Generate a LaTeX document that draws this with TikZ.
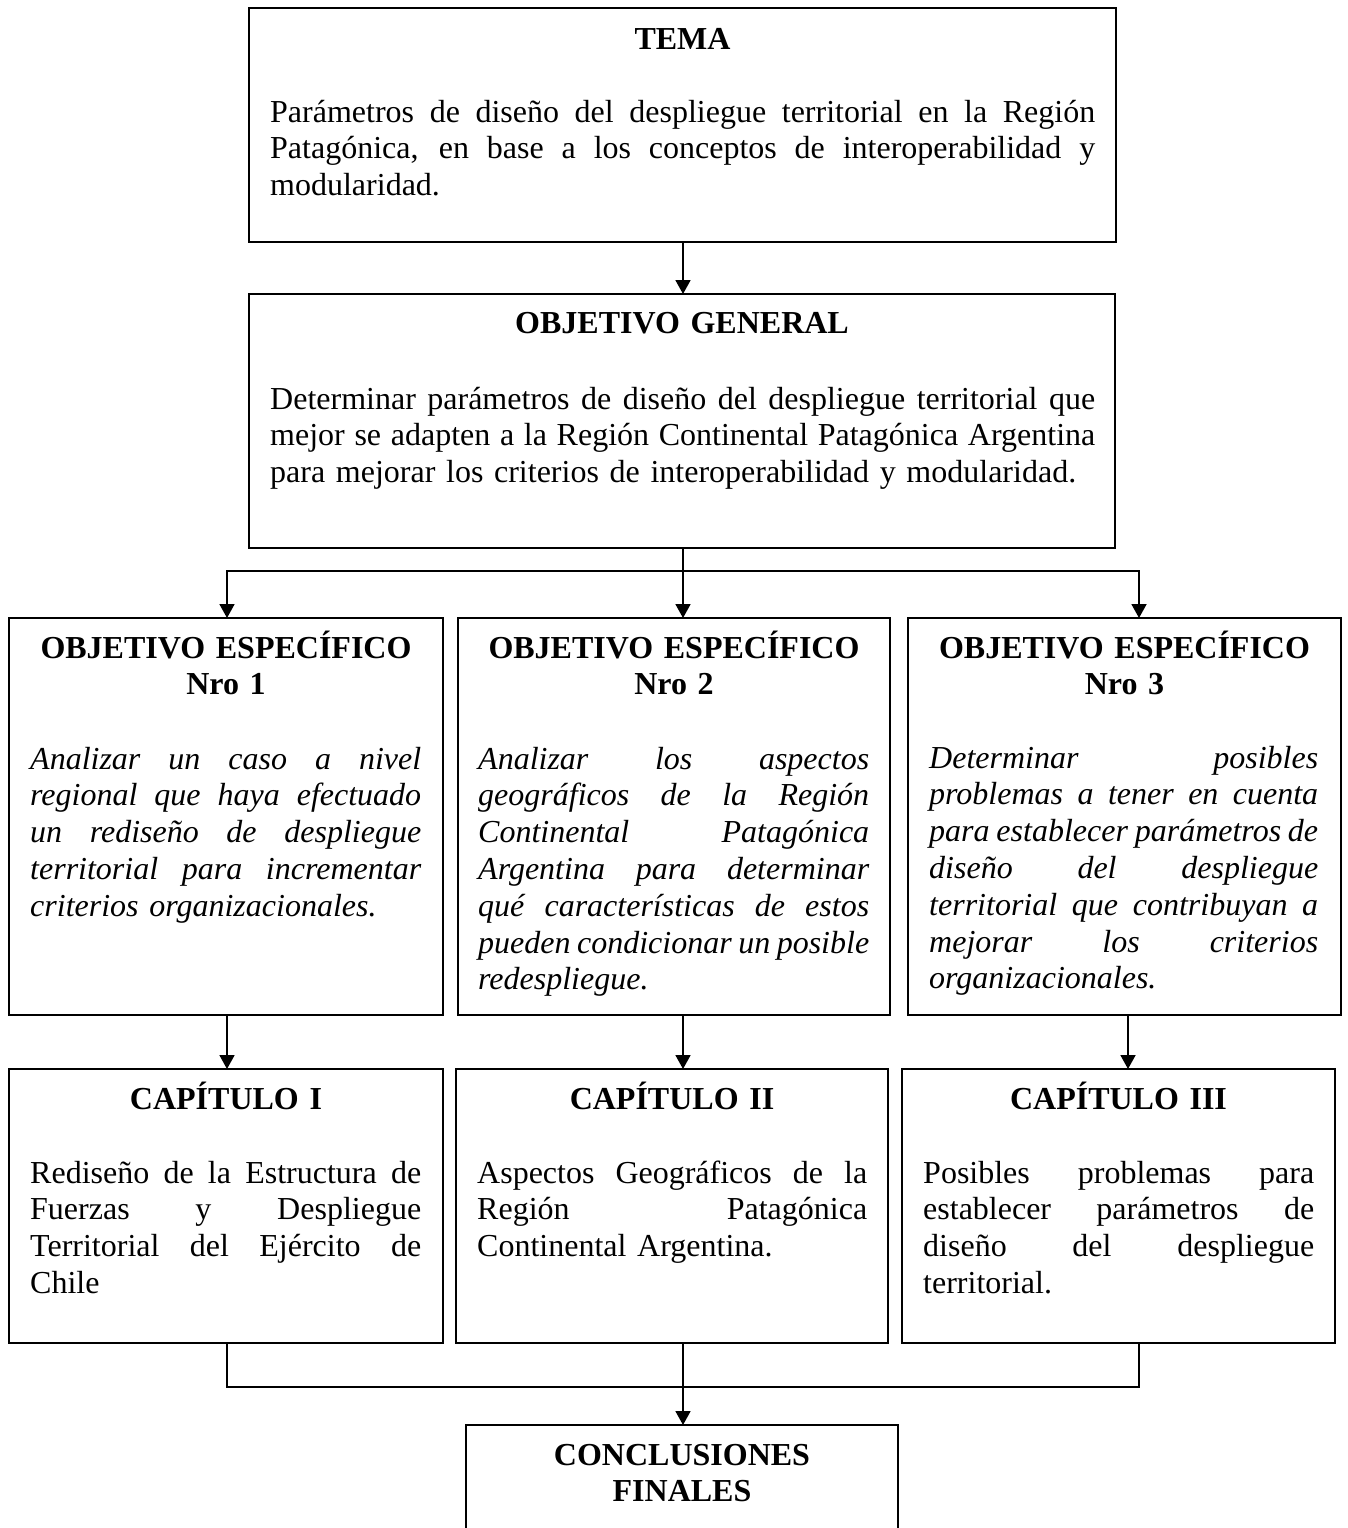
\documentclass[tikz,border=0pt]{standalone}
\usepackage{fontspec}
\setmainfont{Liberation Serif}
\usetikzlibrary{arrows.meta}
\newcommand\myfs{\fontsize{32}{36.8}\selectfont}
\def\jw{391pt}
\newcommand\jl[1]{\leavevmode\hbox to \jw{\spaceskip=0.25em plus 1fil minus 0.12em\relax #1}}
\begin{document}
\begin{tikzpicture}[x=1pt,y=-1pt,
  box/.style={draw,line width=1.8pt,rectangle,inner sep=0pt,outer sep=0pt},
  conn/.style={line width=1.8pt},
  arr/.style={conn,-{Triangle[length=14pt,width=15pt]}},
  ttl/.style={font=\myfs\bfseries,anchor=base,inner sep=0pt,align=center,text width=#1},
  ttl/.default=430pt,
  body/.style={font=\myfs,anchor=base west,inner sep=0pt,align=left,text width=#1},
  ibody/.style={body=#1,font=\myfs\itshape},
  ]
\useasboundingbox[fill=white] (0,0) rectangle (1347,1528);
\clip (0,0) rectangle (1347,1528);

% boxes
\node[box,minimum width=867pt,minimum height=234pt] (tema) at (682.5,125) {};
\node[box,minimum width=866pt,minimum height=254pt] (og) at (682,421) {};
\node[box,minimum width=434pt,minimum height=397pt] (oe1) at (226,816.5) {};
\node[box,minimum width=432pt,minimum height=397pt] (oe2) at (674,816.5) {};
\node[box,minimum width=433pt,minimum height=397pt] (oe3) at (1124.5,816.5) {};
\node[box,minimum width=434pt,minimum height=274pt] (cap1) at (226,1206) {};
\node[box,minimum width=432pt,minimum height=274pt] (cap2) at (672,1206) {};
\node[box,minimum width=433pt,minimum height=274pt] (cap3) at (1118.5,1206) {};
\node[box,minimum width=432pt,minimum height=160pt] (conc) at (682,1505) {};

% columns and junctions
\coordinate (cL) at (227,0);
\coordinate (cM) at (683,0);
\coordinate (cR) at (1139,0);
\coordinate (cR2) at (1128,0);
\coordinate (j1) at (683,571);
\coordinate (j2) at (683,1387);

% connectors
\draw[arr] (tema.south -| cM) -- (og.north -| cM);
\draw[arr] (og.south -| cM) -- (oe2.north -| cM);
\draw[arr] (j1) -| (oe1.north -| cL);
\draw[arr] (j1) -| (oe3.north -| cR);
\draw[arr] (oe1.south -| cL) -- (cap1.north -| cL);
\draw[arr] (oe2.south -| cM) -- (cap2.north -| cM);
\draw[arr] (oe3.south -| cR2) -- (cap3.north -| cR2);
\draw[conn] (cap1.south -| cL) |- (j2);
\draw[conn] (cap3.south -| cR) |- (j2);
\draw[arr] (cap2.south -| cM) -- (conc.north -| cM);

% titles
\node[ttl=860pt] (temaT) at ([yshift=-42pt]tema.north) {TEMA};
\node[ttl=860pt] (ogT) at ([yshift=-39pt]og.north) {OBJETIVO GENERAL};
\node[ttl] (oe1T) at ([yshift=-40pt]oe1.north) {OBJETIVO ESPECÍFICO\\Nro 1};
\node[ttl] (oe2T) at ([yshift=-40pt]oe2.north) {OBJETIVO ESPECÍFICO\\Nro 2};
\node[ttl] (oe3T) at ([yshift=-40pt]oe3.north) {OBJETIVO ESPECÍFICO\\Nro 3};
\node[ttl] (cap1T) at ([yshift=-40pt]cap1.north) {CAPÍTULO I};
\node[ttl] (cap2T) at ([yshift=-40pt]cap2.north) {CAPÍTULO II};
\node[ttl] (cap3T) at ([yshift=-40pt]cap3.north) {CAPÍTULO III};
\node[ttl] (concT) at ([yshift=-40pt]conc.north) {CONCLUSIONES\\FINALES};

% bodies
\def\jw{825pt}
\node[body=825pt] (temaB) at (270,122) {%
\jl{Parámetros de diseño del despliegue territorial en la Región}\\
\jl{Patagónica, en base a los conceptos de interoperabilidad y}\\
modularidad.};
\node[body=825pt] (ogB) at (270,409) {%
\jl{Determinar parámetros de diseño del despliegue territorial que}\\
\jl{mejor se adapten a la Región Continental Patagónica Argentina}\\
para mejorar los criterios de interoperabilidad y modularidad.};
\def\jw{391pt}
\node[ibody=391pt] (oe1B) at (30,769) {%
\jl{Analizar un caso a nivel}\\
\jl{regional que haya efectuado}\\
\jl{un rediseño de despliegue}\\
\jl{territorial para incrementar}\\
criterios organizacionales.};
\node[ibody=391pt] (oe2B) at (478,769) {%
\jl{Analizar los aspectos}\\
\jl{geográficos de la Región}\\
\jl{Continental Patagónica}\\
\jl{Argentina para determinar}\\
\jl{qué características de estos}\\
\jl{pueden condicionar un posible}\\
redespliegue.};
\def\jw{389pt}
\node[ibody=389pt] (oe3B) at (929,768) {%
\jl{Determinar posibles}\\
\jl{problemas a tener en cuenta}\\
\jl{para establecer parámetros de}\\
\jl{diseño del despliegue}\\
\jl{territorial que contribuyan a}\\
\jl{mejorar los criterios}\\
organizacionales.};
\def\jw{391pt}
\node[body=391pt] (cap1B) at (30,1183) {%
\jl{Rediseño de la Estructura de}\\
\jl{Fuerzas y Despliegue}\\
\jl{Territorial del Ejército de}\\
Chile};
\def\jw{390pt}
\node[body=390pt] (cap2B) at (477,1183) {%
\jl{Aspectos Geográficos de la}\\
\jl{Región Patagónica}\\
Continental Argentina.};
\def\jw{391pt}
\node[body=391pt] (cap3B) at (923,1183) {%
\jl{Posibles problemas para}\\
\jl{establecer parámetros de}\\
\jl{diseño del despliegue}\\
territorial.};
\end{tikzpicture}
\end{document}
